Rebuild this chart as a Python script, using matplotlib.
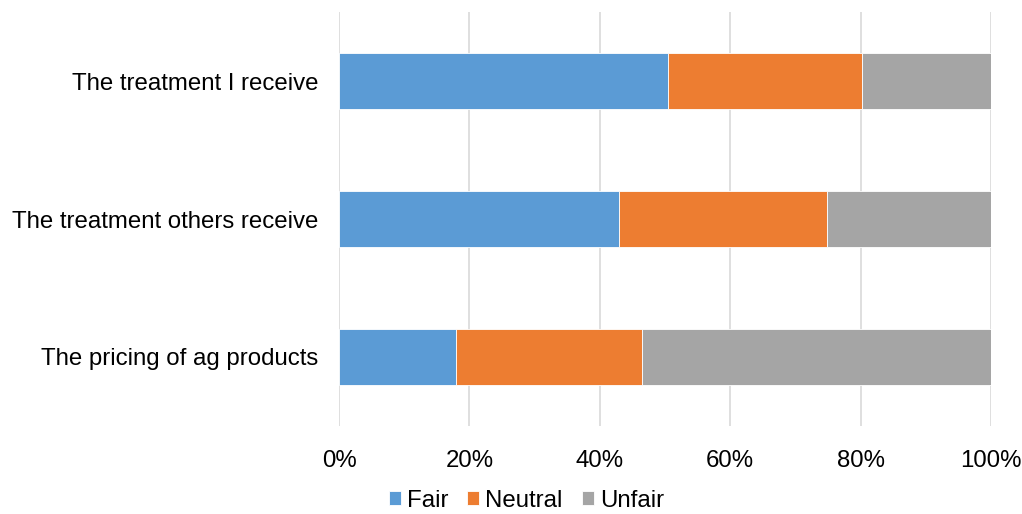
import matplotlib.pyplot as plt
from matplotlib.ticker import PercentFormatter

plt.rcParams['font.family'] = ['Liberation Sans', 'DejaVu Sans']

categories = ["The pricing of ag products", "The treatment others receive", "The treatment I receive"]
fair = [17.9, 43.0, 50.5]
neutral = [28.6, 31.9, 29.7]
unfair = [53.5, 25.1, 19.8]

colors = {"Fair": "#5b9bd5", "Neutral": "#ed7d31", "Unfair": "#a5a5a5"}

fig = plt.figure(figsize=(10.22, 5.14), dpi=100)
ax = fig.add_axes([339 / 1022, 1 - 426 / 514, 652 / 1022, 414 / 514])

left = [0] * len(categories)
for name, vals in [("Fair", fair), ("Neutral", neutral), ("Unfair", unfair)]:
    ax.barh(categories, vals, left=left, height=0.4, color=colors[name],
            edgecolor="white", linewidth=0.6, label=name, zorder=3)
    left = [l + v for l, v in zip(left, vals)]

ax.set_xlim(0, 100)
ax.set_ylim(-0.5, 2.5)
ax.set_xticks(range(0, 101, 20))
ax.xaxis.set_major_formatter(PercentFormatter(decimals=0))
ax.grid(axis="x", color="#d9d9d9", linewidth=1.2, zorder=0)
for s in ax.spines.values():
    s.set_visible(False)
ax.tick_params(axis="both", length=0, labelsize=17.3, colors="#000000")
ax.tick_params(axis="x", pad=17)
ax.tick_params(axis="y", pad=15)

fig.legend(loc="center", bbox_to_anchor=(0.515, 0.026), ncol=3, frameon=False,
           fontsize=17.3, handlelength=0.5, handleheight=0.5, handletextpad=0.25,
           columnspacing=0.8, borderpad=0)

fig.savefig("out.png", dpi=100)
